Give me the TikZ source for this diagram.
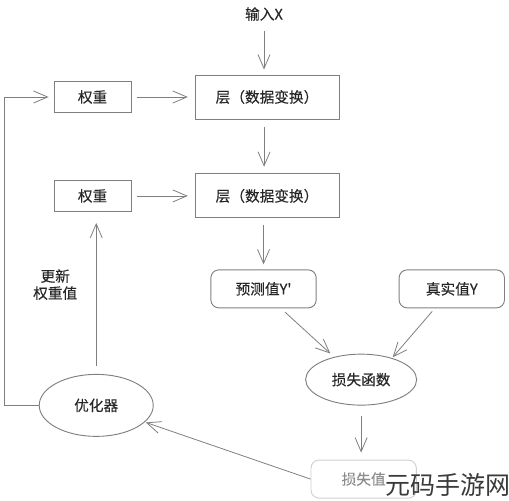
\documentclass[tikz,border=0pt]{standalone}
\usepackage{fontspec}
\setmainfont{Noto Sans CJK SC}
\newfontfamily\nnfont[FakeBold=0.15]{Noto Sans CJK SC}
\usetikzlibrary{arrows.meta,calc,positioning,shapes.geometric}
\definecolor{nnink}{HTML}{262626}
\definecolor{nnline}{HTML}{7F7F7F}
\definecolor{nnpale}{HTML}{CFCFCF}
\definecolor{nnfade}{HTML}{8C8C8C}
\definecolor{nnmark}{HTML}{3A3A3A}
\tikzset{
  nn text/.style={font=\nnfont\fontsize{11}{12.75}\selectfont, text=nnink},
  nn box/.style={draw=nnline, line width=0.7pt, inner sep=0pt, align=center},
  nn layer/.style={nn box, minimum width=108pt, minimum height=33pt},
  nn weight/.style={nn box, minimum width=57.75pt, minimum height=23.25pt},
  nn value/.style={nn box, rounded corners=6pt, minimum width=79pt, minimum height=28.5pt},
  nn oval/.style={nn box, ellipse},
  nn arrow/.style={-{Straight Barb[length=10.5pt,width=9pt]}, line width=0.6pt, draw=nnline}
}
\begin{document}
\begin{tikzpicture}[nn text, x=0.75pt, y=0.75pt]
  \useasboundingbox (0,0) rectangle (509,-500);
  \node[nn layer] (layer1) at (267,-97) {层（数据变换）};
  \node[nn layer, below=40.5pt of layer1] (layer2) {层（数据变换）};
  \node (input) at (264,-14) {输入X};
  \node[nn weight, left=47.25pt of layer1] (weight1) {权重};
  \node[nn weight, left=47.25pt of layer2] (weight2) {权重};
  \node[nn value, below=38.25pt of layer2, xshift=-2.6pt] (pred) {预测值Y'};
  \node[nn value, right=61.5pt of pred] (true) {真实值Y};
  \node[nn oval, minimum width=83.25pt, minimum height=38.25pt,
    below=34pt of $(pred.south)!0.5!(true.south)$, xshift=2.6pt] (loss) {损失函数};
  \node[nn value, draw=nnpale, text=nnfade, below=40.5pt of loss, xshift=1.9pt] (lossval) {损失值};
  \node[nn oval, minimum width=85.5pt, minimum height=46.5pt,
    below=121.5pt of weight2, xshift=2.75pt] (optim) {优化器};
  \node[below=39.5pt of weight2, xshift=-28pt, align=center] (update) {更新\\权重值};
  \node[anchor=south east, inner sep=0pt, font=\fontsize{18.75}{20}\selectfont, text=nnmark] (wmark) at (511,-497) {元码手游网};
  \draw[nn arrow, shorten <=4pt, shorten >=3.75pt] (input) -- (input |- layer1.north);
  \draw[nn arrow, shorten <=6pt, shorten >=5pt] ([xshift=-2.2pt]layer1.south) -- ([xshift=-2.2pt]layer2.north);
  \draw[nn arrow, shorten <=5pt, shorten >=3.75pt] (pred |- layer2.south) -- (pred.north);
  \draw[nn arrow, shorten <=3.75pt, shorten >=5pt] (weight1) -- (layer1);
  \draw[nn arrow, shorten <=3.75pt, shorten >=5pt] (weight2) -- (layer2);
  \draw[nn arrow, shorten <=4pt, shorten >=3.75pt] ([xshift=13pt]pred.south) -- (loss.140);
  \draw[nn arrow, shorten <=3pt, shorten >=0.75pt] ([xshift=-12.75pt]true.south) -- (loss.35);
  \draw[nn arrow, shorten <=7.5pt, shorten >=5.25pt] (loss.south) -- (loss.south |- lossval.north);
  \draw[nn arrow, shorten >=0.75pt] (lossval.west) -- (optim.-19);
  \draw[nn arrow, shorten >=3.75pt] (optim.west) -| ([xshift=-37pt]weight1.west) -- (weight1.west);
  \draw[nn arrow, shorten <=6pt, shorten >=8.25pt] (optim.north) -- (optim.north |- weight2.south);
\end{tikzpicture}
\end{document}
